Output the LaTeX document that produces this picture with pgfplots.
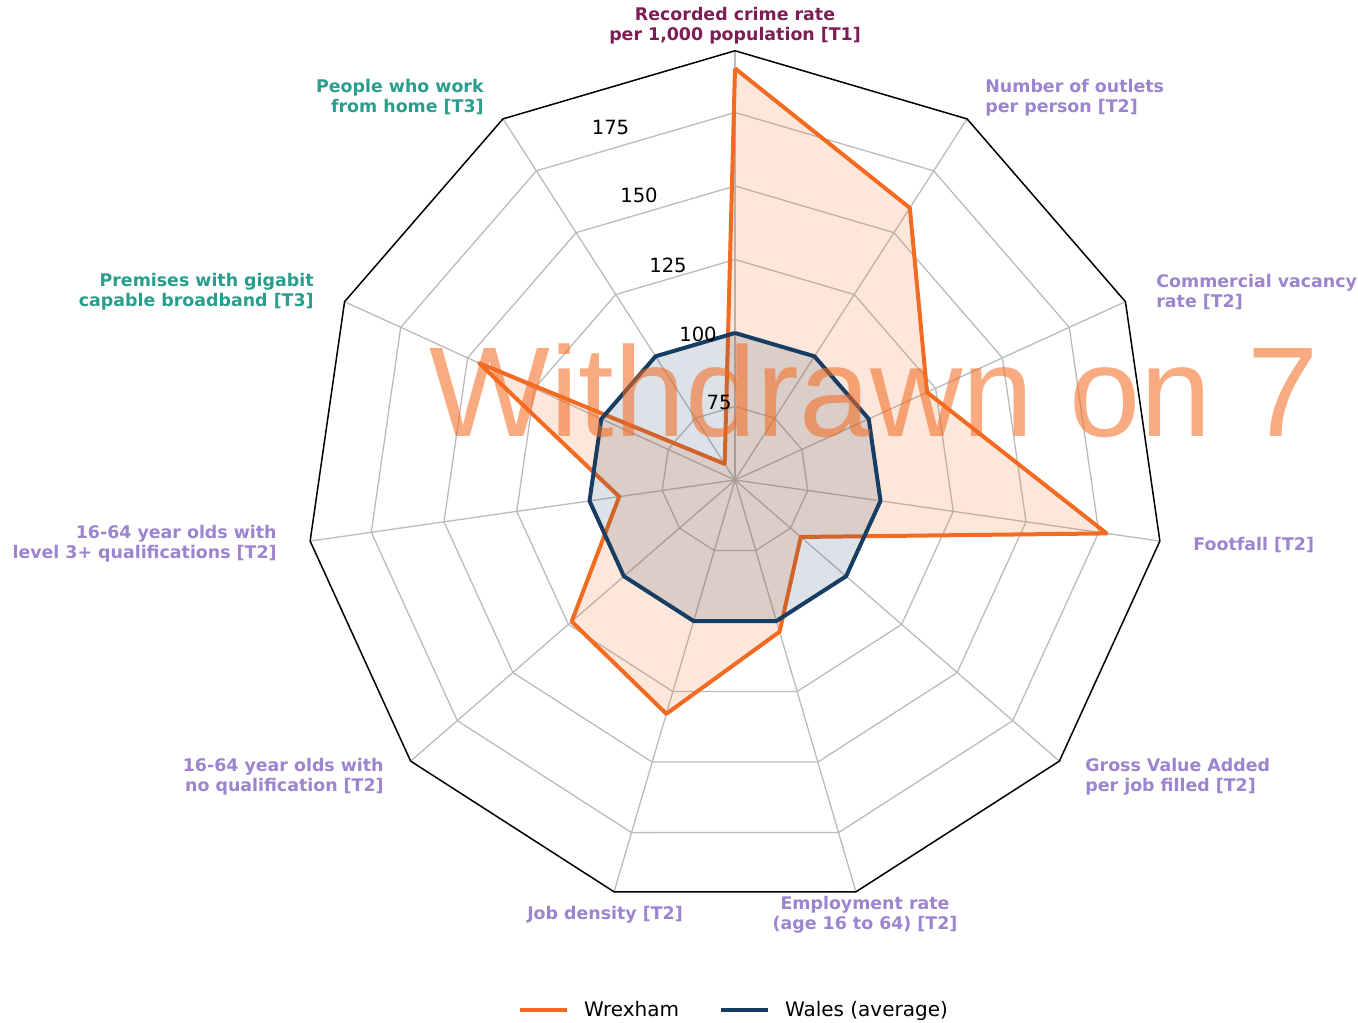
\documentclass[border=0pt]{standalone}
\usepackage{pgfplots}
\pgfplotsset{compat=1.18}
\usepackage{pgfplotstable}
\usepackage{fontspec}
\setmainfont{DejaVu Sans}
\newfontfamily\wmfont{Liberation Sans}
\definecolor{wrex}{HTML}{F26B21}
\definecolor{wales}{HTML}{183D63}
\definecolor{tone}{HTML}{7D1D55}
\definecolor{ttwo}{HTML}{9C84CF}
\definecolor{tthree}{HTML}{2A9D8C}
\definecolor{gridc}{HTML}{BBBBBB}

\pgfplotstableread{
i wrexham wales
0 190 100
1 160 100
2 121.8 100
3 177.7 100
4 79.6 100
5 103.8 100
6 132.9 100
7 123.5 100
8 89.8 100
9 145.7 100
10 56.5 100
11 190 100
}\radar

\begin{document}
\begin{tikzpicture}[x=0.5pt,y=0.5pt]
\useasboundingbox (0,0) rectangle (1358,1022);
\begin{axis}[
  at={(0,0)}, anchor=south west,
  x=0.5pt, y=0.5pt,
  xmin=-735, xmax=623, ymin=-542, ymax=480,
  hide axis, clip=false,
  legend style={at={(axis cs:-2,-530)}, anchor=center, draw=none, fill=none,
    legend columns=2, font=\fontsize{10}{12}\selectfont,
    nodes={inner sep=0pt},
    /tikz/every odd column/.append style={column sep=7.5pt},
    /tikz/every even column/.append style={column sep=20pt}},
  legend image code/.code={\draw[#1] (0pt,0pt) -- (23.5pt,0pt);},
]
% rings
\pgfplotsinvokeforeach{75,100,125,150,175}{
  \addplot[gridc, line width=0.65pt, forget plot] table[
    x expr={(#1-50)*2.94*cos(90-\thisrow{i}*360/11)},
    y expr={(#1-50)*2.94*sin(90-\thisrow{i}*360/11)}]{\radar};
}
% spokes
\pgfplotsinvokeforeach{0,...,10}{
  \draw[gridc, line width=0.65pt] (axis cs:0,0) -- (axis cs:{429.24*cos(90-#1*360/11)},{429.24*sin(90-#1*360/11)});
}
% outer frame
\addplot[black, line width=0.75pt, forget plot] table[
    x expr={(196-50)*2.94*cos(90-\thisrow{i}*360/11)},
    y expr={(196-50)*2.94*sin(90-\thisrow{i}*360/11)}]{\radar};

% Wrexham
\addplot[draw=none, fill=wrex, fill opacity=0.16, forget plot] table[
    x expr={(\thisrow{wrexham}-50)*2.94*cos(90-\thisrow{i}*360/11)},
    y expr={(\thisrow{wrexham}-50)*2.94*sin(90-\thisrow{i}*360/11)}]{\radar};
\addplot[wrex, line width=2pt, line join=round] table[
    x expr={(\thisrow{wrexham}-50)*2.94*cos(90-\thisrow{i}*360/11)},
    y expr={(\thisrow{wrexham}-50)*2.94*sin(90-\thisrow{i}*360/11)}]{\radar};
\addlegendentry{Wrexham}
% Wales
\addplot[draw=none, fill=wales, fill opacity=0.15, forget plot] table[
    x expr={(\thisrow{wales}-50)*2.94*cos(90-\thisrow{i}*360/11)},
    y expr={(\thisrow{wales}-50)*2.94*sin(90-\thisrow{i}*360/11)}]{\radar};
\addplot[wales, line width=2pt, line join=round] table[
    x expr={(\thisrow{wales}-50)*2.94*cos(90-\thisrow{i}*360/11)},
    y expr={(\thisrow{wales}-50)*2.94*sin(90-\thisrow{i}*360/11)}]{\radar};
\addlegendentry{Wales (average)}

% radial tick labels
\node[font=\fontsize{9.8}{12}\selectfont, inner sep=0pt] at (axis cs:-124.5,352) {175};
\node[font=\fontsize{9.8}{12}\selectfont, inner sep=0pt] at (axis cs:-96,284.3) {150};
\node[font=\fontsize{9.8}{12}\selectfont, inner sep=0pt] at (axis cs:-67,214.5) {125};
\node[font=\fontsize{9.8}{12}\selectfont, inner sep=0pt] at (axis cs:-37,146) {100};
\node[font=\fontsize{9.8}{12}\selectfont, inner sep=0pt] at (axis cs:-16,77) {75};

% category labels
\tikzset{cat/.style={font=\bfseries\fontsize{8.7}{10}\selectfont, inner sep=0pt}}
\node[cat, text=tone, align=center] at (axis cs:0,454) {Recorded crime rate\\per 1,000 population [T1]};
\node[cat, text=ttwo, align=left, anchor=west] at (axis cs:250,382.5) {Number of outlets\\per person [T2]};
\node[cat, text=ttwo, align=left, anchor=west] at (axis cs:421,188) {Commercial vacancy\\rate [T2]};
\node[cat, text=ttwo, align=left, anchor=west] at (axis cs:458,-65) {Footfall [T2]};
\node[cat, text=ttwo, align=left, anchor=west] at (axis cs:350,-297) {Gross Value Added\\per job filled [T2]};
\node[cat, text=ttwo, align=center] at (axis cs:130,-435) {Employment rate\\(age 16 to 64) [T2]};
\node[cat, text=ttwo, align=center] at (axis cs:-130,-435) {Job density [T2]};
\node[cat, text=ttwo, align=right, anchor=east] at (axis cs:-351,-297) {16-64 year olds with\\no qualification [T2]};
\node[cat, text=ttwo, align=right, anchor=east] at (axis cs:-458,-64) {16-64 year olds with\\level 3+ qualifications [T2]};
\node[cat, text=tthree, align=right, anchor=east] at (axis cs:-421,188) {Premises with gigabit\\capable broadband [T3]};
\node[cat, text=tthree, align=right, anchor=east] at (axis cs:-251,382.5) {People who work\\from home [T3]};

% watermark
\node[anchor=base west, font=\wmfont\fontsize{64}{70}\selectfont, text=wrex, text opacity=0.57, inner sep=0pt] at (axis cs:-306,43) {Withdrawn on 7};
\end{axis}
\end{tikzpicture}
\end{document}
